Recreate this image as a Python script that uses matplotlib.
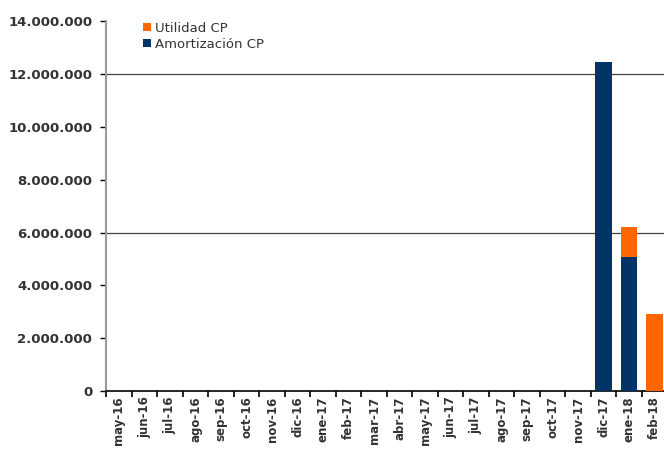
import matplotlib
matplotlib.use("Agg")
import matplotlib.pyplot as plt
import matplotlib.ticker as mticker
import numpy as np

months = ["may-16", "jun-16", "jul-16", "ago-16", "sep-16", "oct-16", "nov-16", "dic-16",
          "ene-17", "feb-17", "mar-17", "abr-17", "may-17", "jun-17", "jul-17", "ago-17",
          "sep-17", "oct-17", "nov-17", "dic-17", "ene-18", "feb-18"]
amortizacion = [0]*19 + [12460000, 5090000, 0]
utilidad = [0]*19 + [0, 1120000, 2920000]

navy = "#003366"
orange = "#ff6600"

fig = plt.figure(figsize=(6.64, 4.5), dpi=100)
ax = fig.add_axes([0.16, 0.131, 0.845, 0.822])

x = np.arange(len(months))
ax.bar(x, amortizacion, width=0.66, color=navy, label="Amortización CP", zorder=3)
ax.bar(x, utilidad, width=0.66, bottom=amortizacion, color=orange, label="Utilidad CP", zorder=3)

for g in [6000000, 12000000]:
    ax.axhline(g, color="#444444", lw=0.9, zorder=1)

ax.set_ylim(0, 14000000)
ax.set_xlim(-0.5, len(months) - 0.5)
ax.yaxis.set_major_locator(mticker.MultipleLocator(2000000))
ax.yaxis.set_major_formatter(mticker.FuncFormatter(lambda v, p: f"{int(v):,}".replace(",", ".")))

ax.set_xticks(np.arange(len(months) + 1) - 0.5)
ax.set_xticklabels([])
ax.set_xticks(x, minor=True)
ax.set_xticklabels(months, minor=True, rotation=90, fontsize=8.5, fontweight="bold", color="#333333")
ax.tick_params(axis="x", which="minor", length=0, pad=4)
ax.tick_params(axis="x", which="major", length=4, width=1.2, color="black", direction="out")
ax.tick_params(axis="y", length=4, width=1, color="black", labelsize=9.5, labelcolor="#333333", pad=6)
for lab in ax.get_yticklabels():
    lab.set_fontweight("bold")

for s in ["top", "right"]:
    ax.spines[s].set_visible(False)
ax.spines["left"].set_color("#999999")
ax.spines["left"].set_linewidth(1.5)
ax.spines["bottom"].set_color("black")
ax.spines["bottom"].set_linewidth(1.2)

h, l = ax.get_legend_handles_labels()
ax.legend(h[::-1], l[::-1], loc="upper left", bbox_to_anchor=(0.045, 1.03), frameon=False,
          fontsize=9.5, handlelength=0.6, handleheight=0.6, handletextpad=0.3,
          labelspacing=0.2, labelcolor="#333333")

fig.savefig("out.png", dpi=100)
